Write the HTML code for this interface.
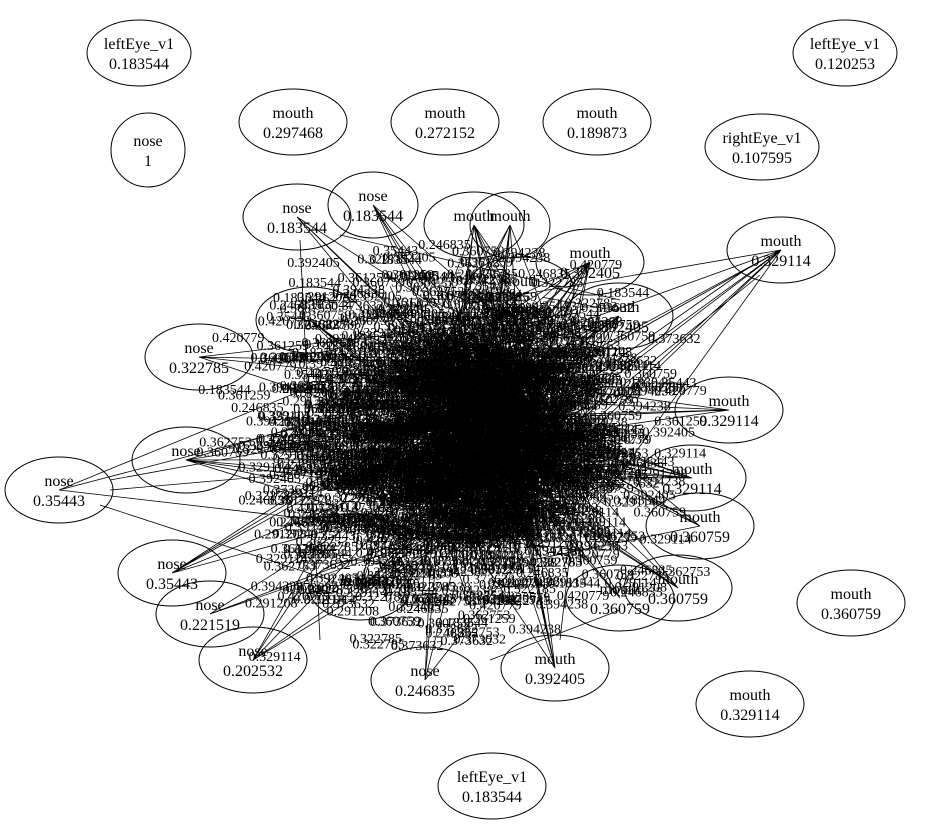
<!DOCTYPE html>
<html><head><meta charset="utf-8"><style>
html,body{margin:0;padding:0;background:#fff;}
svg{display:block;font-family:"Liberation Serif",serif;}
</style></head><body>
<svg id="s" width="928" height="827" viewBox="0 0 928 827" xmlns="http://www.w3.org/2000/svg">
<g id="edges" stroke="#000" stroke-width="0.8" fill="none"></g>
<g id="elabels" font-size="14" fill="#000"></g>
<g id="nodes" font-size="16" text-anchor="middle" fill="#fff" stroke="#000"></g>
</svg>
<script>
var N=[
[139,53,52,33,"leftEye_v1","0.183544",0],
[845,53,52,33,"leftEye_v1","0.120253",0],
[148,150,37,37,"nose","1",0],
[293,122,54,33,"mouth","0.297468",0],
[445,122,54,33,"mouth","0.272152",0],
[597,122,54,33,"mouth","0.189873",0],
[762,147,57,33,"rightEye_v1","0.107595",0],
[297,217,54,33,"nose","0.183544",1],
[373,205,45,33,"nose","0.183544",1],
[474,225,50,33,"mouth","",1],
[510,225,40,33,"mouth","",1],
[590,262,54,33,"mouth","0.392405",1],
[781,250,54,33,"mouth","0.329114",1],
[619,316,54,33,"mouth","0.392405",1],
[199,357,54,33,"nose","0.322785",1],
[729,410,54,33,"mouth","0.329114",1],
[59,490,54,33,"nose","0.35443",1],
[186,460,54,33,"nose","",1],
[692,478,54,33,"mouth","0.329114",1],
[700,526,54,33,"mouth","0.360759",1],
[172,573,54,33,"nose","0.35443",1],
[678,588,54,33,"mouth","0.360759",1],
[851,603,54,33,"mouth","0.360759",0],
[210,614,54,33,"nose","0.221519",1],
[253,660,54,33,"nose","0.202532",1],
[425,680,54,33,"nose","0.246835",1],
[555,668,54,33,"mouth","0.392405",1],
[750,704,54,33,"mouth","0.329114",0],
[492,786,54,33,"leftEye_v1","0.183544",0],
[620,598,54,33,"mouth","0.360759",1],
[360,590,50,30,"mouth","",1],
[310,320,54,33,"","",1],
[520,290,54,33,"mouth","",1]
];
var seed=7;function r(){seed=(seed*16807)%2147483647;return seed/2147483647;}
function g(){return (r()+r()+r())/3;}
var e=document.getElementById('edges'),L=document.getElementById('elabels'),ns="http://www.w3.org/2000/svg";
var inner=N.filter(function(n){return n[6];});
var d="";
function pt(){return [340+g()*300,250+g()*360];}
for(var i=0;i<900;i++){
 var a,b;
 if(r()<0.15){var n=inner[Math.floor(r()*inner.length)];a=[n[0],n[1]];}else a=pt();
 b=pt();
 d+="M"+a[0].toFixed(1)+" "+a[1].toFixed(1)+"L"+b[0].toFixed(1)+" "+b[1].toFixed(1);
}
d+="M745 270L560 400M760 275L580 420M110 480L330 440M110 490L340 470M100 505L330 580M490 660L620 610M300 240L320 640M340 235L620 300M600 290L560 640";
var p=document.createElementNS(ns,"path");p.setAttribute("d",d);e.appendChild(p);
var vals=["0.392405","0.329114","0.360759","0.35443","0.322785","0.183544","0.246835","0.373632","0.394238","0.362753","0.420779","0.361259","0.291208"];
for(var i=0;i<1400;i++){
 var x=200+g()*520,y=215+g()*460;
 var t=document.createElementNS(ns,"text");t.setAttribute("x",x.toFixed(1));t.setAttribute("y",y.toFixed(1));
 t.setAttribute("text-anchor","middle");t.textContent=vals[Math.floor(r()*vals.length)];L.appendChild(t);
}
var G=document.getElementById('nodes');
N.forEach(function(n){
 var el=document.createElementNS(ns,"ellipse");
 el.setAttribute("cx",n[0]);el.setAttribute("cy",n[1]);el.setAttribute("rx",n[2]);el.setAttribute("ry",n[3]);
 el.setAttribute("fill",n[6]?"none":"#fff");
 G.appendChild(el);
 [[n[4],-4],[n[5],16]].forEach(function(q){if(!q[0])return;
  var t=document.createElementNS(ns,"text");t.setAttribute("x",n[0]);t.setAttribute("y",n[1]+q[1]);
  t.setAttribute("fill","#000");t.setAttribute("stroke","none");t.textContent=q[0];G.appendChild(t);});
});
</script>
</body></html>
